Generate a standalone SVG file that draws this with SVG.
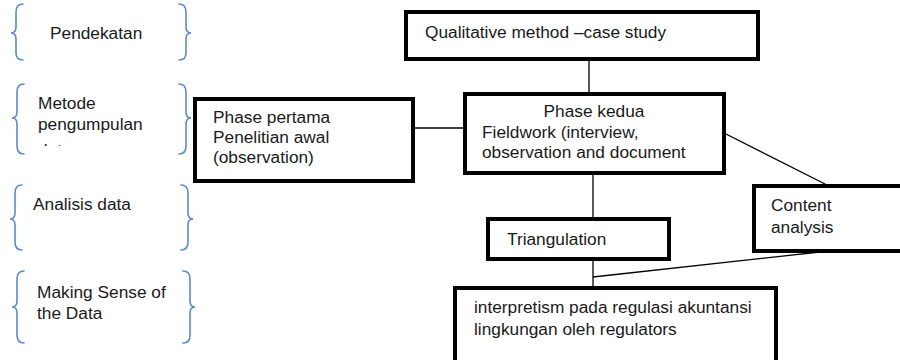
<svg xmlns="http://www.w3.org/2000/svg" width="900" height="360" viewBox="0 0 900 360">
<defs>
<style>
text{font-family:"Liberation Sans",Arial,sans-serif;font-size:17.3px;fill:#1a1a1a}
.box{fill:#fff;stroke:#000;stroke-width:4}
.edge{fill:none;stroke:#000;stroke-width:1.3}
.brace{fill:none;stroke:#5b8bc9;stroke-width:1.6;stroke-linecap:round}
</style>
<clipPath id="clipData"><rect x="0" y="0" width="200" height="146"/></clipPath>
</defs>
<rect width="900" height="360" fill="#fff"/>
<g id="connectors">
<line class="edge" x1="589" y1="60" x2="589" y2="92"/>
<line class="edge" x1="414" y1="128" x2="463" y2="128"/>
<line class="edge" x1="593" y1="174" x2="593" y2="218"/>
<line class="edge" x1="726" y1="134" x2="827" y2="185"/>
<line class="edge" x1="593" y1="260" x2="593" y2="287"/>
<line class="edge" x1="593" y1="277" x2="820" y2="252"/>
</g>
<g id="label-pendekatan">
<path class="brace" d="M23,4 Q16,4 16,12 L16,27 Q16,33 11,33 Q16,33 16,39 L16,53 Q16,60 23,60"/>
<path class="brace" d="M179,4 Q186,4 186,12 L186,27 Q186,33 191,33 Q186,33 186,39 L186,53 Q186,60 179,60"/>
<text x="50" y="39">Pendekatan</text>
</g>
<g id="label-metode">
<path class="brace" d="M24,84 Q17,84 17,92 L17,112 Q17,118 12,118 Q17,118 17,124 L17,146 Q17,154 24,154"/>
<path class="brace" d="M179,84 Q186,84 186,92 L186,112 Q186,118 191,118 Q186,118 186,124 L186,146 Q186,154 179,154"/>
<text x="38" y="109">Metode</text>
<text x="38" y="130">pengumpulan</text>
<text x="38" y="156" clip-path="url(#clipData)">data</text>
</g>
<g id="label-analisis">
<path class="brace" d="M22,185 Q15,185 15,193 L15,213 Q15,219 10,219 Q15,219 15,225 L15,242 Q15,250 22,250"/>
<path class="brace" d="M181,185 Q188,185 188,193 L188,213 Q188,219 193,219 Q188,219 188,225 L188,242 Q188,250 181,250"/>
<text x="33" y="210">Analisis data</text>
</g>
<g id="label-making">
<path class="brace" d="M24,271 Q17,271 17,279 L17,301 Q17,307 12,307 Q17,307 17,313 L17,335 Q17,343 24,343"/>
<path class="brace" d="M183,271 Q190,271 190,279 L190,301 Q190,307 195,307 Q190,307 190,313 L190,335 Q190,343 183,343"/>
<text x="37" y="298">Making Sense of</text>
<text x="37" y="319">the Data</text>
</g>
<g id="node-qualitative">
<rect class="box" x="406" y="12" width="352" height="47"/>
<text x="425" y="38">Qualitative method –case study</text>
</g>
<g id="node-phase1">
<rect class="box" x="195" y="99" width="218" height="82"/>
<text x="213" y="123">Phase pertama</text>
<text x="213" y="143">Penelitian awal</text>
<text x="213" y="163">(observation)</text>
</g>
<g id="node-phase2">
<rect class="box" x="465" y="94" width="259" height="79"/>
<text x="594" y="117" text-anchor="middle">Phase kedua</text>
<text x="482" y="138">Fieldwork (interview,</text>
<text x="482" y="158">observation and document</text>
</g>
<g id="node-triangulation">
<rect class="box" x="488" y="219" width="181" height="40"/>
<text x="507" y="245">Triangulation</text>
</g>
<g id="node-content">
<rect class="box" x="754" y="186" width="160" height="65"/>
<text x="771" y="211">Content</text>
<text x="771" y="233">analysis</text>
</g>
<g id="node-interpretism">
<rect class="box" x="455" y="288" width="321" height="90"/>
<text x="474" y="313">interpretism pada regulasi akuntansi</text>
<text x="474" y="335">lingkungan oleh regulators</text>
</g>
</svg>
